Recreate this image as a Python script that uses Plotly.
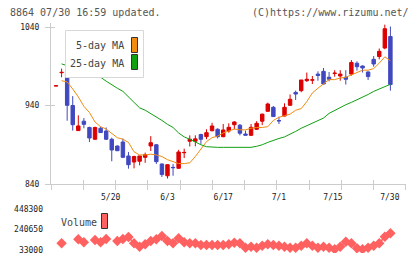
import plotly.graph_objects as go

# ---------------- data ----------------
idx = list(range(61))
opens = [964.9, 981.8, 983.5, 940, 908, 920, 912, 897, 911, 907.5,
         897, 888.4, 893.5, 875.7, 868, 869, 874, 888.4, 890, 865.5,
         850.5, 861.2, 860, 879.8, 894.5, 894.5, 903, 900.3, 907.9, 909.7,
         900.3, 907.5, 915.5, 914.9, 903.7, 902, 909.7, 920, 932.6, 937.7,
         920.8, 926.6, 940.2, 956.7, 958.9, 971.6, 972.3, 980, 983.5, 976,
         980.8, 977.6, 976, 980, 993.8, 990.3, 982.7, 998.8, 1002.3, 1013.2,
         1027.9]
highs = [965.1, 987, 1014.5, 952, 927.5, 924, 913, 913, 913, 912,
         899, 889, 898, 880.8, 876, 876, 880, 901, 891, 866,
         865, 865.5, 883.5, 885, 902, 902, 904, 909.7, 918, 911,
         916.4, 917.3, 920, 916.4, 908, 916.4, 920, 929.5, 943.6, 939.4,
         925.7, 942.8, 954, 958.9, 972.5, 982, 977.6, 983.5, 987.8, 982.7,
         985, 985, 985, 998, 996.3, 991, 983.5, 1003, 1012.6, 1043,
         1040.6]
lows = [964.9, 976, 920.6, 908, 907.5, 911, 893.5, 896, 905, 896,
        869, 882, 873, 859.5, 860, 863.8, 867, 882, 865.5, 849,
        847, 850.5, 859.5, 873, 887.8, 888, 891, 897, 907, 898,
        899.5, 905.4, 909.7, 902, 902, 901.5, 909, 915, 932, 925.7,
        916.4, 926, 940, 947, 957, 970, 967.4, 971.6, 967, 970.8,
        976.7, 971.6, 966.7, 978, 984.4, 982, 972.5, 989.4, 998.8, 1011.7,
        958.9]
closes = [965.1, 982.2, 940.2, 915.5, 914, 916, 898.6, 912, 905.5, 897,
          883.3, 882.4, 874, 864.6, 875, 875.7, 877.3, 892.6, 868.5, 852,
          864.6, 860.8, 880.8, 880.2, 897, 897.5, 897, 905.4, 913.9, 900.3,
          908.8, 912.2, 919, 904.7, 902.2, 912.2, 917.3, 929, 941.9, 925.9,
          920.4, 937.7, 947.9, 954.6, 972.5, 973.4, 972.7, 978.3, 967.4, 973.4,
          981.2, 980, 973.4, 994.8, 989.4, 987.8, 976.8, 992.9, 1009, 1037.8,
          966.7]
ma5 = [None, 971.6, 970, 961, 951, 939, 931, 919, 913, 910,
       905, 899, 897, 893, 881, 877, 877, 878, 877, 875,
       871, 868, 866, 866, 867, 875, 885, 894, 899, 901,
       905, 908, 910, 909, 909, 911, 912, 912, 913, 921,
       925, 927, 929, 934, 936, 945, 956, 962, 968, 973,
       973, 975, 976, 979, 983, 985, 985, 987, 994, 1002,
       997]
ma25 = [None, 993, 991, 988.5, 986, 984, 981.5, 979, 976, 971,
        966, 962, 958, 951, 944, 937, 934, 930, 926, 921,
        916, 912, 905, 900, 897, 893, 890, 887.5, 886.7, 886.7,
        886.7, 886.7, 886.7, 886.7, 886.7, 886.7, 888, 890, 893, 896,
        898, 900, 903, 907, 911, 914, 918, 921, 924, 930,
        934, 937, 941, 944, 947, 951, 954, 958, 961, 965,
        967]
volume = [None, 97800, None, None, 138400, 108000, None, 131300, 108000, 141400,
          None, 121100, 141400, 161700, 97800, 63400, 87700, 121100, 138400, 171800,
          121100, 97800, 148500, 108000, 97800, 97800, 80600, 80600, 80600, 80600,
          80600, 87700, 103900, 97800, 53300, 63400, 53300, 73500, 87700, 80600,
          73500, 63400, 53300, 53300, 73500, 97800, 73500, 53300, 63400, 53300,
          37000, 63400, 114000, 97800, 47200, 37000, 53300, 73500, 97800, 164700,
          199100]
date_labels = ["5/20", "6/3", "6/17", "7/1", "7/15", "7/30"]
date_label_pos = [9.8, 20, 30, 40, 49.7, 59.9]
grid_pos = [-0.9 + 5.79 * k for k in range(12)]
price_ticks = [840, 940, 1040]
vol_ticks = [33000, 240650, 448300]
vol_tick_text = ["33000", "240650", "448300"]

# ---------------- layout geometry ----------------
W, H = 420, 259
ML, MR, MT, MB = 51, 14, 23, 4
PW, PH = W - ML - MR, H - MT - MB


def px2x(px):
    return (px - ML) / PW


def py2y(py):
    return (H - MB - py) / PH


RED = "#dc0000"
BLUE = "#4048c0"
ORANGE = "#f08c10"
GREEN = "#10a010"
VOLC = "#ff6060"
AX = "#cccccc"
FONT = "DejaVu Sans Mono"
XR = [-0.9, 62.8]

fig = go.Figure()
fig.add_trace(go.Candlestick(
    x=idx, open=opens, high=highs, low=lows, close=closes,
    increasing=dict(line=dict(color=RED, width=1), fillcolor=RED),
    decreasing=dict(line=dict(color=BLUE, width=1), fillcolor=BLUE),
    whiskerwidth=0, showlegend=False, xaxis="x", yaxis="y"))
fig.add_trace(go.Scatter(x=idx, y=ma5, mode="lines",
                         line=dict(color=ORANGE, width=1), showlegend=False))
fig.add_trace(go.Scatter(x=idx, y=ma25, mode="lines",
                         line=dict(color=GREEN, width=1), showlegend=False))
fig.add_trace(go.Scatter(x=idx, y=volume, mode="lines+markers",
                         line=dict(color=VOLC, width=1.5),
                         marker=dict(symbol="diamond", size=8, color=VOLC),
                         connectgaps=False, showlegend=False,
                         xaxis="x2", yaxis="y2"))

main_bottom = py2y(184)
ymax = 840 + 161 / 0.785
vol_bottom, vol_top = py2y(253), py2y(205)
vpp = 207650 / 20.5
vmin = 33000 - (253 - 249.7) * vpp
vmax = 448300 + (208.7 - 205) * vpp

tickfont = dict(family=FONT, size=8, color="#222")

fig.update_layout(
    width=W, height=H, margin=dict(l=ML, r=MR, t=MT, b=MB, autoexpand=False),
    paper_bgcolor="white", plot_bgcolor="white",
    boxgap=0.12,
    xaxis=dict(domain=[0, 1], range=XR, anchor="y", showgrid=False, zeroline=False,
               showline=True, linecolor=AX, linewidth=1,
               tickvals=grid_pos, ticks="outside", ticklen=5, tickcolor=AX,
               showticklabels=False, rangeslider=dict(visible=False), fixedrange=True),
    xaxis3=dict(overlaying="x", anchor="y", range=XR, showgrid=False, zeroline=False,
                showline=False, tickvals=grid_pos, ticks="inside", ticklen=4,
                tickcolor=AX, showticklabels=False, fixedrange=True),
    xaxis4=dict(overlaying="x", anchor="y", range=XR, showgrid=False, zeroline=False,
                showline=False, tickvals=date_label_pos, ticktext=date_labels,
                ticks="", tickfont=tickfont, ticklabelstandoff=7, fixedrange=True),
    yaxis=dict(domain=[main_bottom, 1], range=[840, ymax], anchor="x",
               showgrid=False, zeroline=False, showline=True, linecolor=AX,
               tickvals=price_ticks, ticks="outside", ticklen=5, tickcolor=AX,
               tickfont=tickfont, ticklabelstandoff=4, fixedrange=True),
    yaxis3=dict(overlaying="y", anchor="x", range=[840, ymax], showgrid=False,
                zeroline=False, showline=False, tickvals=price_ticks, ticks="inside",
                ticklen=4, tickcolor=AX, showticklabels=False, fixedrange=True),
    xaxis2=dict(domain=[0, 1], range=XR, anchor="y2", visible=False, fixedrange=True),
    yaxis2=dict(domain=[vol_bottom, vol_top], range=[vmin, vmax], anchor="x2",
                showgrid=False, zeroline=False, showline=False,
                tickvals=vol_ticks, ticktext=vol_tick_text, ticks="", tickfont=tickfont,
                ticklabelstandoff=7, fixedrange=True),
)

# dummy empty traces to make overlay axes exist
fig.add_trace(go.Scatter(x=[], y=[], xaxis="x3", yaxis="y", showlegend=False))
fig.add_trace(go.Scatter(x=[], y=[], xaxis="x4", yaxis="y", showlegend=False))
fig.add_trace(go.Scatter(x=[], y=[], xaxis="x", yaxis="y3", showlegend=False))

shapes = []
annos = []
# header texts
annos.append(dict(text="8864 07/30 16:59 updated.", x=px2x(8), y=py2y(12.7),
                  xref="paper", yref="paper", xanchor="left", yanchor="middle",
                  showarrow=False, font=dict(family=FONT, size=10, color="#555")))
annos.append(dict(text="(C)https://www.rizumu.net/", x=px2x(410.5), y=py2y(12.7),
                  xref="paper", yref="paper", xanchor="right", yanchor="middle",
                  showarrow=False, font=dict(family=FONT, size=10, color="#555")))
# price legend box
shapes.append(dict(type="rect", xref="paper", yref="paper", layer="above",
                   x0=px2x(65.5), x1=px2x(143.5), y0=py2y(77.5), y1=py2y(30.5),
                   line=dict(color="#d8d8d8", width=1), fillcolor="white"))
for label, col, yc, y0, y1 in [("5-day MA", ORANGE, 45.5, 37.5, 52.5),
                               ("25-day MA", GREEN, 63, 54.5, 69.5)]:
    annos.append(dict(text=label, x=px2x(125.5), y=py2y(yc), xref="paper", yref="paper",
                      xanchor="right", yanchor="middle", showarrow=False,
                      font=dict(family=FONT, size=10, color="#444")))
    shapes.append(dict(type="rect", xref="paper", yref="paper", layer="above",
                       x0=px2x(131.5), x1=px2x(137.5), y0=py2y(y1), y1=py2y(y0),
                       line=dict(color="#333", width=1), fillcolor=col))
# volume legend
annos.append(dict(text="Volume", x=px2x(58.5), y=py2y(222.5), xref="paper", yref="paper",
                  xanchor="left", yanchor="middle", showarrow=False,
                  font=dict(family=FONT, size=10, color="#444")))
shapes.append(dict(type="rect", xref="paper", yref="paper", layer="above",
                   x0=px2x(101.5), x1=px2x(107.5), y0=py2y(228.5), y1=py2y(213.5),
                   line=dict(color="#333", width=1), fillcolor=VOLC))

fig.update_layout(shapes=shapes, annotations=annos)
fig.write_html("out.html")
